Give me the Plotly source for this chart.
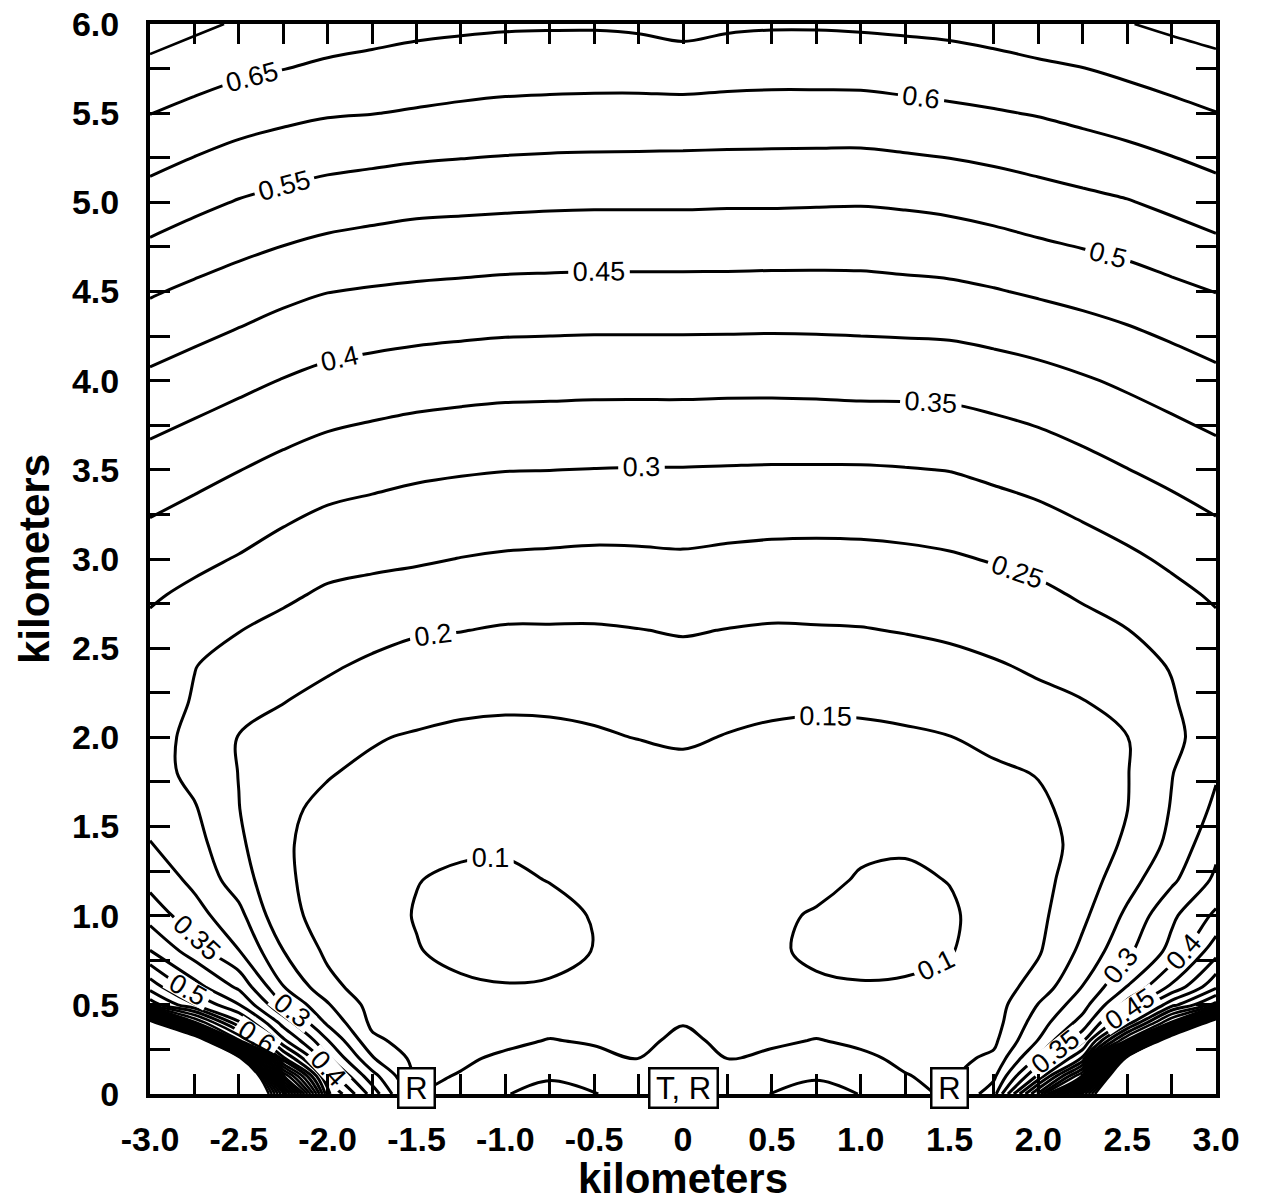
import plotly.graph_objects as go

# ---- grid (km) ----
x_km = [-3.0, -2.75, -2.5, -2.25, -2.0, -1.75, -1.5, -1.25, -1.0, -0.75, -0.5, -0.25,
        0.0, 0.25, 0.5, 0.75, 1.0, 1.25, 1.5, 1.75, 2.0, 2.25, 2.5, 2.75, 3.0]
y_km = [0.0, 0.1, 0.2, 0.3, 0.4, 0.5, 0.6, 0.8, 1.0, 1.2, 1.4, 1.6, 1.8, 2.0, 2.2,
        2.4, 2.6, 2.8, 3.0, 3.5, 4.0, 4.5, 5.0, 5.5, 5.75, 6.0]

# field values, one row per depth in y_km
z_values = [
    [2.0, 2.0, 2.0, 1.26, 0.51, 0.33, 0.152, 0.17, 0.198, 0.215, 0.202, 0.18, 0.19, 0.18, 0.201, 0.214, 0.199, 0.17, 0.14, 0.23, 0.61, 1.31, 2.0, 2.0, 2.0],
    [2.0, 2.0, 2.0, 0.91, 0.43, 0.27, 0.14, 0.153, 0.178, 0.195, 0.182, 0.165, 0.18, 0.165, 0.184, 0.196, 0.178, 0.152, 0.14, 0.19, 0.41, 0.76, 2.0, 2.0, 2.0],
    [2.0, 2.0, 1.56, 0.61, 0.36, 0.205, 0.135, 0.143, 0.158, 0.175, 0.162, 0.149, 0.17, 0.149, 0.16, 0.175, 0.158, 0.142, 0.135, 0.16, 0.31, 0.51, 1.56, 2.0, 2.0],
    [2.0, 1.76, 0.76, 0.46, 0.302, 0.16, 0.13, 0.138, 0.14, 0.152, 0.145, 0.14, 0.16, 0.14, 0.142, 0.152, 0.142, 0.135, 0.13, 0.14, 0.252, 0.39, 0.76, 1.76, 2.0],
    [1.6, 0.81, 0.56, 0.38, 0.24, 0.14, 0.125, 0.13, 0.125, 0.135, 0.132, 0.132, 0.148, 0.132, 0.133, 0.135, 0.127, 0.127, 0.124, 0.13, 0.225, 0.32, 0.52, 0.81, 1.7],
    [0.68, 0.553, 0.452, 0.302, 0.205, 0.132, 0.118, 0.115, 0.112, 0.118, 0.12, 0.125, 0.138, 0.124, 0.12, 0.118, 0.113, 0.115, 0.115, 0.127, 0.202, 0.28, 0.42, 0.58, 0.72],
    [0.58, 0.47, 0.39, 0.252, 0.165, 0.125, 0.11, 0.106, 0.102, 0.104, 0.11, 0.118, 0.128, 0.117, 0.11, 0.104, 0.103, 0.105, 0.108, 0.125, 0.17, 0.252, 0.352, 0.46, 0.59],
    [0.452, 0.375, 0.302, 0.201, 0.14, 0.118, 0.102, 0.09, 0.085, 0.088, 0.101, 0.11, 0.113, 0.11, 0.104, 0.095, 0.087, 0.088, 0.098, 0.116, 0.145, 0.212, 0.29, 0.365, 0.48],
    [0.38, 0.32, 0.265, 0.16, 0.138, 0.115, 0.098, 0.088, 0.085, 0.09, 0.102, 0.108, 0.11, 0.106, 0.102, 0.099, 0.09, 0.087, 0.095, 0.115, 0.138, 0.19, 0.26, 0.34, 0.41],
    [0.334, 0.288, 0.225, 0.155, 0.138, 0.12, 0.101, 0.094, 0.094, 0.101, 0.105, 0.11, 0.112, 0.11, 0.104, 0.103, 0.099, 0.094, 0.101, 0.118, 0.134, 0.175, 0.23, 0.29, 0.36],
    [0.302, 0.268, 0.209, 0.154, 0.138, 0.124, 0.113, 0.106, 0.104, 0.105, 0.109, 0.114, 0.117, 0.114, 0.108, 0.103, 0.102, 0.104, 0.11, 0.122, 0.135, 0.162, 0.21, 0.262, 0.337],
    [0.282, 0.254, 0.201, 0.156, 0.143, 0.13, 0.121, 0.113, 0.11, 0.111, 0.116, 0.122, 0.125, 0.122, 0.115, 0.11, 0.11, 0.113, 0.12, 0.13, 0.142, 0.165, 0.199, 0.253, 0.31],
    [0.272, 0.236, 0.199, 0.175, 0.152, 0.143, 0.133, 0.127, 0.125, 0.126, 0.13, 0.135, 0.138, 0.134, 0.128, 0.125, 0.124, 0.127, 0.133, 0.142, 0.152, 0.175, 0.198, 0.248, 0.295],
    [0.268, 0.238, 0.198, 0.183, 0.17, 0.153, 0.146, 0.142, 0.14, 0.142, 0.146, 0.151, 0.156, 0.148, 0.143, 0.141, 0.142, 0.145, 0.149, 0.162, 0.175, 0.188, 0.199, 0.24, 0.272],
    [0.27, 0.247, 0.225, 0.201, 0.188, 0.175, 0.166, 0.158, 0.156, 0.156, 0.158, 0.163, 0.17, 0.164, 0.158, 0.156, 0.157, 0.16, 0.168, 0.177, 0.19, 0.198, 0.222, 0.246, 0.275],
    [0.278, 0.251, 0.236, 0.222, 0.205, 0.193, 0.184, 0.179, 0.176, 0.176, 0.177, 0.181, 0.186, 0.181, 0.177, 0.176, 0.178, 0.182, 0.188, 0.196, 0.206, 0.222, 0.237, 0.252, 0.278],
    [0.29, 0.27, 0.251, 0.237, 0.224, 0.213, 0.204, 0.201, 0.196, 0.196, 0.196, 0.199, 0.203, 0.199, 0.196, 0.197, 0.198, 0.202, 0.207, 0.215, 0.224, 0.236, 0.249, 0.268, 0.29],
    [0.306, 0.29, 0.274, 0.258, 0.243, 0.236, 0.231, 0.225, 0.22, 0.219, 0.218, 0.22, 0.223, 0.219, 0.216, 0.216, 0.218, 0.221, 0.226, 0.233, 0.241, 0.255, 0.27, 0.288, 0.306],
    [0.325, 0.311, 0.297, 0.28, 0.265, 0.26, 0.255, 0.249, 0.245, 0.243, 0.241, 0.242, 0.244, 0.24, 0.237, 0.236, 0.237, 0.24, 0.245, 0.253, 0.262, 0.276, 0.291, 0.308, 0.325],
    [0.379, 0.365, 0.351, 0.336, 0.323, 0.315, 0.308, 0.304, 0.301, 0.3004, 0.299, 0.298, 0.298, 0.297, 0.296, 0.296, 0.296, 0.298, 0.301, 0.31, 0.32, 0.334, 0.349, 0.363, 0.377],
    [0.44, 0.426, 0.412, 0.398, 0.386, 0.379, 0.373, 0.369, 0.366, 0.365, 0.364, 0.364, 0.364, 0.363, 0.363, 0.364, 0.366, 0.366, 0.367, 0.374, 0.383, 0.395, 0.408, 0.422, 0.437],
    [0.505, 0.49, 0.476, 0.462, 0.451, 0.446, 0.442, 0.439, 0.436, 0.435, 0.434, 0.434, 0.434, 0.434, 0.433, 0.433, 0.434, 0.437, 0.44, 0.447, 0.456, 0.465, 0.475, 0.488, 0.501],
    [0.579, 0.562, 0.547, 0.536, 0.526, 0.519, 0.513, 0.511, 0.509, 0.507, 0.506, 0.506, 0.506, 0.505, 0.505, 0.504, 0.503, 0.506, 0.511, 0.519, 0.529, 0.538, 0.547, 0.561, 0.576],
    [0.651, 0.636, 0.622, 0.612, 0.604, 0.601, 0.596, 0.591, 0.587, 0.585, 0.584, 0.583, 0.582, 0.581, 0.58, 0.58, 0.58, 0.585, 0.59, 0.596, 0.603, 0.613, 0.624, 0.636, 0.649],
    [0.688, 0.673, 0.66, 0.651, 0.641, 0.635, 0.629, 0.625, 0.622, 0.621, 0.62, 0.621, 0.625, 0.62, 0.618, 0.618, 0.619, 0.623, 0.628, 0.634, 0.642, 0.649, 0.66, 0.672, 0.684],
    [0.725, 0.71, 0.695, 0.686, 0.678, 0.67, 0.663, 0.659, 0.656, 0.655, 0.655, 0.658, 0.666, 0.658, 0.655, 0.655, 0.657, 0.66, 0.663, 0.67, 0.678, 0.688, 0.698, 0.71, 0.72],
]

# ---- ticks / labels ----
x_tick_vals = [-3.0, -2.5, -2.0, -1.5, -1.0, -0.5, 0.0, 0.5, 1.0, 1.5, 2.0, 2.5, 3.0]
x_tick_text = ["-3.0", "-2.5", "-2.0", "-1.5", "-1.0", "-0.5", "0", "0.5", "1.0", "1.5", "2.0", "2.5", "3.0"]
y_tick_vals = [0.0, 0.5, 1.0, 1.5, 2.0, 2.5, 3.0, 3.5, 4.0, 4.5, 5.0, 5.5, 6.0]
y_tick_text = ["0", "0.5", "1.0", "1.5", "2.0", "2.5", "3.0", "3.5", "4.0", "4.5", "5.0", "5.5", "6.0"]

station_x = [-1.5, 0.0, 1.5]
station_text = ["R", "T, R", "R"]
station_width = [34, 66, 34]

FONT = "Liberation Sans, Arial, Helvetica, sans-serif"
black = [[0, "black"], [1, "black"]]

fig = go.Figure()

# labelled levels
fig.add_trace(go.Contour(
    x=x_km, y=y_km, z=z_values,
    autocontour=False,
    contours=dict(start=0.1, end=0.65, size=0.05, coloring="lines",
                  showlabels=True, labelformat=".2~f",
                  labelfont=dict(family=FONT, size=27, color="black")),
    line=dict(width=3, smoothing=1.0),
    colorscale=black, showscale=False, hoverinfo="skip",
))
# dense unlabelled levels near the corners
fig.add_trace(go.Contour(
    x=x_km, y=y_km, z=z_values,
    autocontour=False,
    contours=dict(start=0.7, end=1.5, size=0.05, coloring="lines", showlabels=False),
    line=dict(width=2.6, smoothing=1.0),
    colorscale=black, showscale=False, hoverinfo="skip",
))

for sx, txt, w in zip(station_x, station_text, station_width):
    fig.add_annotation(x=sx, y=0, xref="x", yref="y", text=txt, showarrow=False,
                       font=dict(family=FONT, size=31, color="black"),
                       bgcolor="white", bordercolor="black", borderwidth=2.5,
                       borderpad=0, width=w, height=37, yshift=6)

axis_common = dict(
    ticks="inside", ticklen=20, tickwidth=2.5, tickcolor="black",
    showline=True, linewidth=4, linecolor="black", mirror="ticks",
    showgrid=False, zeroline=False, automargin=False,
    tickfont=dict(family=FONT, size=34, color="black", weight="bold"),
)

fig.update_xaxes(range=[-3, 3], tickmode="array", tickvals=x_tick_vals, ticktext=x_tick_text,
                 minor=dict(ticks="inside", ticklen=20, tickwidth=2.5, tickcolor="black",
                            tick0=-3, dtick=0.25, showgrid=False),
                 ticklabelstandoff=12,
                 title=dict(text="kilometers", standoff=4,
                            font=dict(family=FONT, size=42, color="black", weight="bold")),
                 **axis_common)
fig.update_yaxes(range=[0, 6], tickmode="array", tickvals=y_tick_vals, ticktext=y_tick_text,
                 minor=dict(ticks="inside", ticklen=20, tickwidth=2.5, tickcolor="black",
                            tick0=0, dtick=0.25, showgrid=False),
                 ticklabelstandoff=20,
                 title=dict(text="kilometers", standoff=10,
                            font=dict(family=FONT, size=42, color="black", weight="bold")),
                 **axis_common)

fig.update_layout(
    width=1262, height=1202,
    margin=dict(l=150, r=46, t=24, b=108),
    paper_bgcolor="white", plot_bgcolor="white",
    font=dict(family=FONT, color="black"),
    showlegend=False, hovermode=False,
)

fig.write_html("out.html")
